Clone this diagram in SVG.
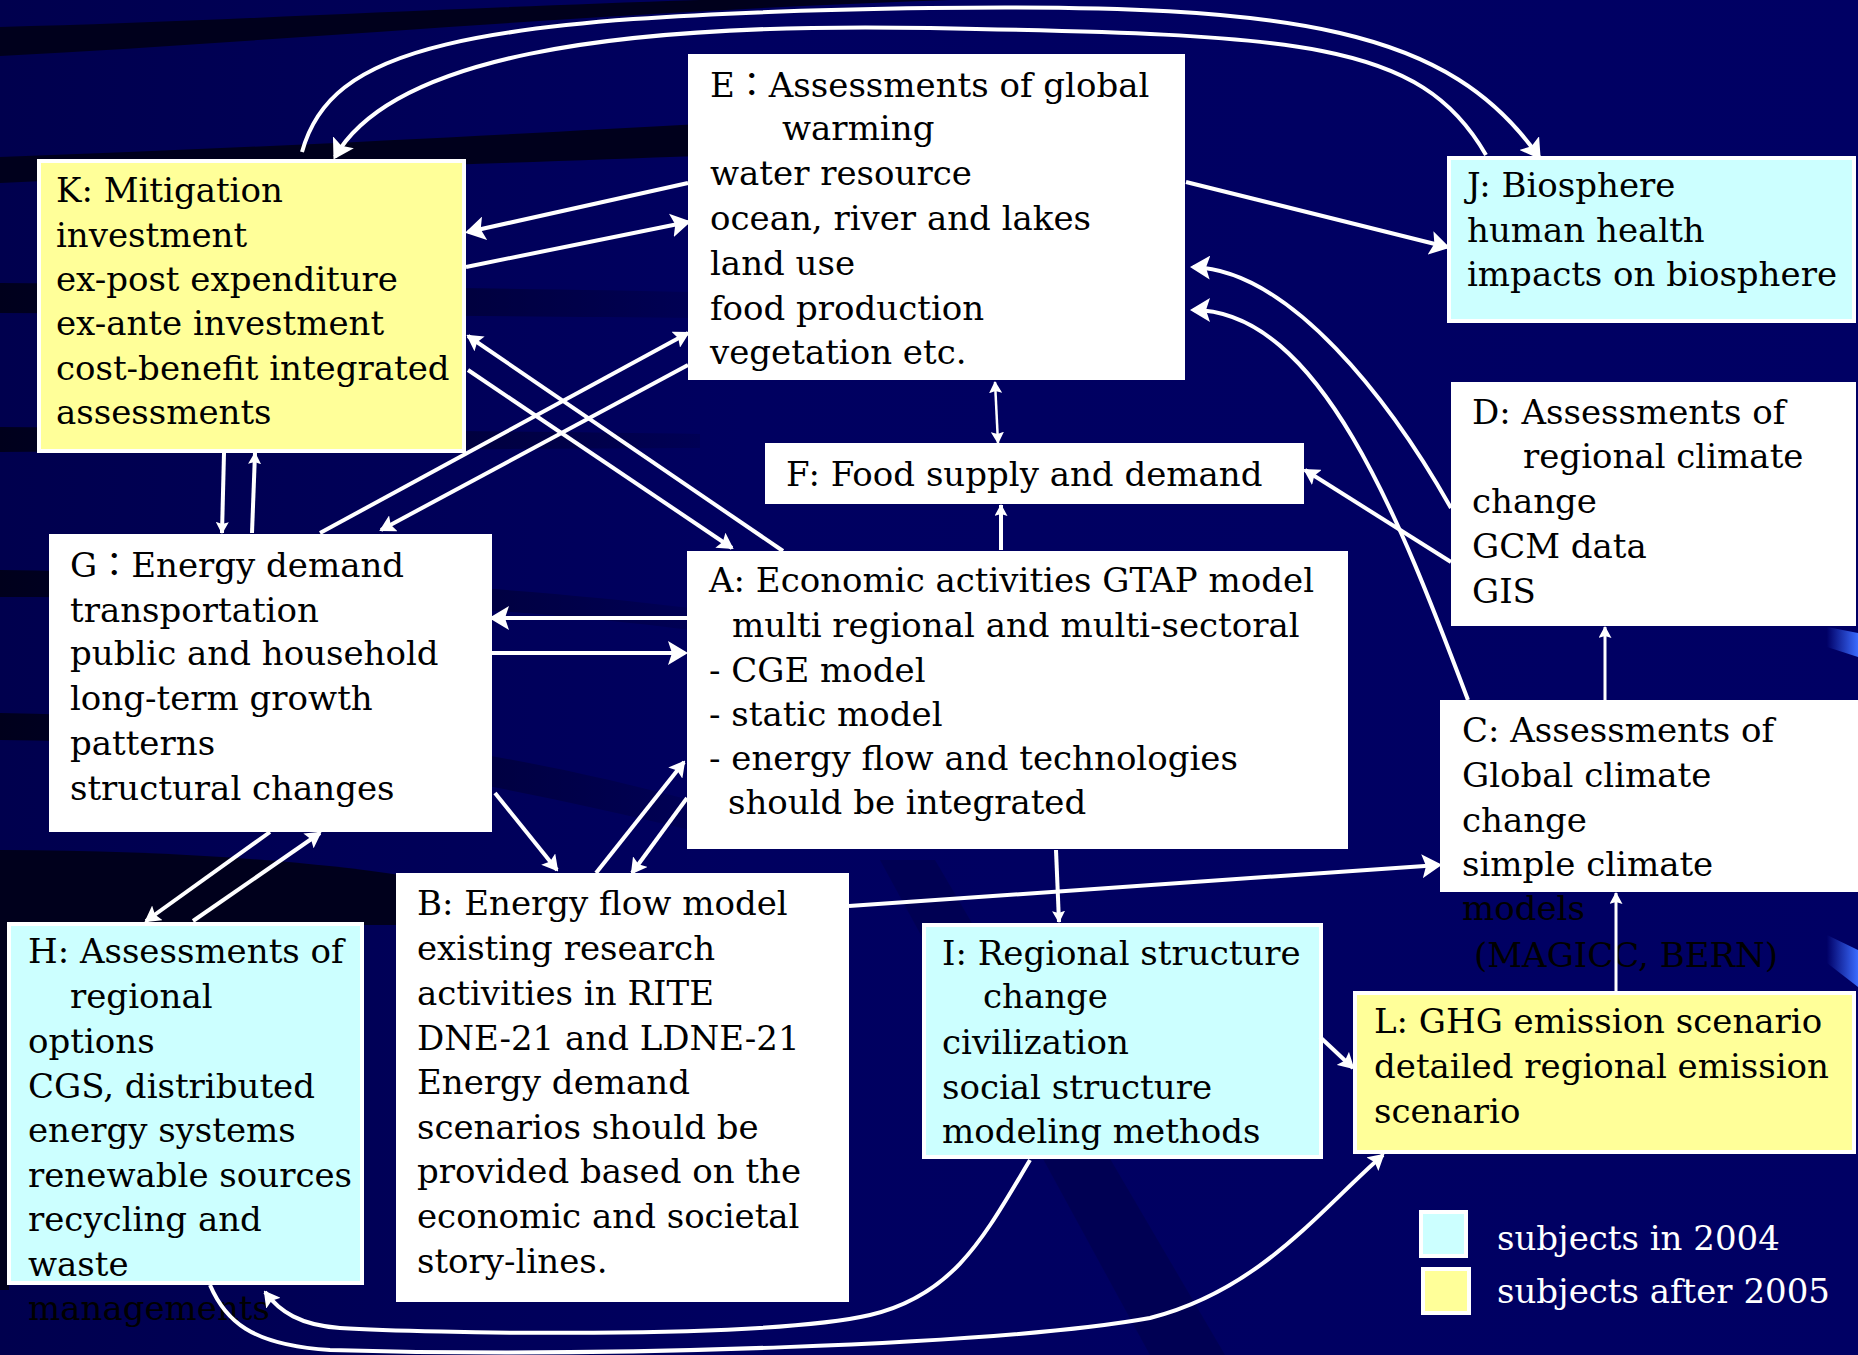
<svg xmlns="http://www.w3.org/2000/svg" width="1858" height="1355" viewBox="0 0 1858 1355">
<defs>
<style>
.n text{font-family:'DejaVu Serif','Noto Sans CJK JP',serif;font-size:34px;fill:#000}
.box{stroke:#fff;stroke-width:4}
.w{fill:#fff}.y{fill:#FFFF99}.c{fill:#CCFFFF}
#connectors path,#connectors line{stroke:#fff;fill:none;stroke-width:4}
.band{fill:#00001C}
.leg{font-family:'DejaVu Serif',serif;font-size:34px;fill:#fff}
</style>
<marker id="ab" markerUnits="userSpaceOnUse" markerWidth="20" markerHeight="24" viewBox="0 0 20 24" refX="17" refY="12" orient="auto-start-reverse"><path d="M0,0 L20,12 L0,24 L4,12 Z" fill="#fff"/></marker>
<marker id="am" markerUnits="userSpaceOnUse" markerWidth="16" markerHeight="18" viewBox="0 0 16 18" refX="14" refY="9" orient="auto-start-reverse"><path d="M0,0 L16,9 L0,18 L3,9 Z" fill="#fff"/></marker>
<marker id="as" markerUnits="userSpaceOnUse" markerWidth="12" markerHeight="13" viewBox="0 0 12 13" refX="11" refY="6.5" orient="auto-start-reverse"><path d="M0,0 L12,6.5 L0,13 L2,6.5 Z" fill="#fff"/></marker>
<linearGradient id="streak" x1="0" y1="0" x2="1" y2="0"><stop offset="0" stop-color="#000066"/><stop offset="1" stop-color="#3A6BFF"/></linearGradient>
<linearGradient id="bg" x1="0" y1="0" x2="1" y2="0"><stop offset="0" stop-color="#00004E"/><stop offset="0.4" stop-color="#000060"/><stop offset="1" stop-color="#000064"/></linearGradient>
<linearGradient id="fade" x1="0" y1="0" x2="1" y2="0"><stop offset="0" stop-color="#00001C" stop-opacity="1"/><stop offset="0.1" stop-color="#00001C" stop-opacity="0.9"/><stop offset="1" stop-color="#00001C" stop-opacity="0.15"/></linearGradient>
</defs>
<g id="background">
<rect x="0" y="0" width="1858" height="1355" fill="url(#bg)"/>
<path class="band" d="M0,27 C200,22 400,10 700,0 L950,0 C600,12 300,40 0,56 Z"/>
<path class="band" d="M0,157 C250,148 500,135 700,124 L700,156 C500,163 250,172 0,183 Z"/>
<path fill="url(#fade)" d="M0,283 C250,285 500,288 700,292 L700,318 C500,316 250,314 0,313 Z"/>
<path fill="url(#fade)" d="M0,427 C250,429 500,431 700,434 L700,448 C500,449 250,450 0,452 Z"/>
<path fill="url(#fade)" d="M0,570 C300,575 500,585 690,608 L690,630 C500,606 300,597 0,597 Z"/>
<path fill="url(#fade)" d="M0,713 C300,718 500,750 690,800 L690,830 C500,785 300,742 0,740 Z"/>
<path class="band" d="M0,850 C150,850 300,860 400,875 L400,925 L0,925 Z"/>
<rect class="band" x="0" y="920" width="9" height="370"/>
<path d="M880,860 L935,860 L1225,1355 L1150,1355 Z" fill="#000050" opacity="0.8"/>
<path d="M1827,627 L1858,633 L1858,657 L1827,647 Z" fill="url(#streak)"/>
<path d="M1827,935 L1858,950 L1858,987 L1827,963 Z" fill="url(#streak)"/>
</g>
<g id="node-E" class="n">
<rect class="box w" x="690" y="56" width="493" height="322"/>
<text x="710" y="97">E：Assessments of global</text>
<text x="782" y="140">warming</text>
<text x="710" y="185">water resource</text>
<text x="710" y="230">ocean, river and lakes</text>
<text x="710" y="275">land use</text>
<text x="710" y="320">food production</text>
<text x="710" y="364">vegetation etc.</text>
</g>
<g id="node-K" class="n">
<rect class="box y" x="39" y="161" width="425" height="290"/>
<text x="56" y="202">K: Mitigation</text>
<text x="56" y="247">investment</text>
<text x="56" y="291">ex-post expenditure</text>
<text x="56" y="335">ex-ante investment</text>
<text x="56" y="380">cost-benefit integrated</text>
<text x="56" y="424">assessments</text>
</g>
<g id="node-J" class="n">
<rect class="box c" x="1449" y="158" width="405" height="163"/>
<text x="1467" y="197">J: Biosphere</text>
<text x="1467" y="242">human health</text>
<text x="1467" y="286">impacts on biosphere</text>
</g>
<g id="node-D" class="n">
<rect class="box w" x="1453" y="384" width="401" height="240"/>
<text x="1472" y="424">D: Assessments of</text>
<text x="1523" y="468">regional climate</text>
<text x="1472" y="513">change</text>
<text x="1472" y="558">GCM data</text>
<text x="1472" y="603">GIS</text>
</g>
<g id="node-F" class="n">
<rect class="box w" x="767" y="445" width="535" height="57"/>
<text x="786" y="486">F: Food supply and demand</text>
</g>
<g id="node-A" class="n">
<rect class="box w" x="689" y="553" width="657" height="294"/>
<text x="709" y="592">A: Economic activities GTAP model</text>
<text x="732" y="637">multi regional and multi-sectoral</text>
<text x="709" y="682">- CGE model</text>
<text x="709" y="726">- static model</text>
<text x="709" y="770">- energy flow and technologies</text>
<text x="728" y="814">should be integrated</text>
</g>
<g id="node-G" class="n">
<rect class="box w" x="51" y="536" width="439" height="294"/>
<text x="70" y="577">G：Energy demand</text>
<text x="70" y="622">transportation</text>
<text x="70" y="665">public and household</text>
<text x="70" y="710">long-term growth</text>
<text x="70" y="755">patterns</text>
<text x="70" y="800">structural changes</text>
</g>
<g id="node-C" class="n">
<rect class="box w" x="1442" y="702" width="420" height="188"/>
<text x="1462" y="742">C: Assessments of</text>
<text x="1462" y="787">Global climate</text>
<text x="1462" y="832">change</text>
<text x="1462" y="876">simple climate</text>
<text x="1462" y="920">models</text>
<text x="1474" y="967">(MAGICC, BERN)</text>
</g>
<g id="node-B" class="n">
<rect class="box w" x="398" y="875" width="449" height="425"/>
<text x="417" y="915">B: Energy flow model</text>
<text x="417" y="960">existing research</text>
<text x="417" y="1005">activities in RITE</text>
<text x="417" y="1050">DNE-21 and LDNE-21</text>
<text x="417" y="1094">Energy demand</text>
<text x="417" y="1139">scenarios should be</text>
<text x="417" y="1183">provided based on the</text>
<text x="417" y="1228">economic and societal</text>
<text x="417" y="1273">story-lines.</text>
</g>
<g id="node-H" class="n">
<rect class="box c" x="9" y="924" width="353" height="359"/>
<text x="28" y="963">H: Assessments of</text>
<text x="70" y="1008">regional</text>
<text x="28" y="1053">options</text>
<text x="28" y="1098">CGS, distributed</text>
<text x="28" y="1142">energy systems</text>
<text x="28" y="1187">renewable sources</text>
<text x="28" y="1231">recycling and</text>
<text x="28" y="1276">waste</text>
<text x="28" y="1320">managements</text>
</g>
<g id="node-I" class="n">
<rect class="box c" x="924" y="925" width="397" height="232"/>
<text x="942" y="965">I: Regional structure</text>
<text x="983" y="1008">change</text>
<text x="942" y="1054">civilization</text>
<text x="942" y="1099">social structure</text>
<text x="942" y="1143">modeling methods</text>
</g>
<g id="node-L" class="n">
<rect class="box y" x="1355" y="993" width="499" height="159"/>
<text x="1374" y="1033">L: GHG emission scenario</text>
<text x="1374" y="1078">detailed regional emission</text>
<text x="1374" y="1123">scenario</text>
</g>
<g id="legend">
<rect class="box c" x="1421" y="1212" width="45" height="44"/>
<rect class="box y" x="1423" y="1269" width="46" height="44"/>
<text class="leg" x="1497" y="1250">subjects in 2004</text>
<text class="leg" x="1497" y="1303">subjects after 2005</text>
</g>
<g id="connectors">
<path d="M302,152 C330,50 450,15 930,8 C1300,3 1450,30 1539,157" marker-end="url(#ab)"/>
<path d="M1486,155 C1420,40 1300,35 930,28 C600,22 390,60 335,157" marker-end="url(#ab)"/>
<line x1="688" y1="183" x2="468" y2="232" marker-end="url(#ab)"/>
<line x1="466" y1="267" x2="688" y2="222" marker-end="url(#ab)"/>
<line x1="783" y1="551" x2="468" y2="336" marker-end="url(#am)"/>
<line x1="468" y1="370" x2="732" y2="548" marker-end="url(#am)"/>
<line x1="320" y1="533" x2="688" y2="333" marker-end="url(#am)"/>
<line x1="688" y1="365" x2="381" y2="530" marker-end="url(#am)"/>
<line x1="224" y1="453" x2="222" y2="533" marker-end="url(#as)"/>
<line x1="252" y1="533" x2="255" y2="453" marker-end="url(#as)"/>
<line x1="687" y1="618" x2="492" y2="618" marker-end="url(#ab)"/>
<line x1="492" y1="653" x2="685" y2="653" marker-end="url(#ab)"/>
<line x1="495" y1="793" x2="557" y2="870" marker-end="url(#am)"/>
<line x1="596" y1="873" x2="684" y2="762" marker-end="url(#am)"/>
<line x1="687" y1="798" x2="632" y2="873" marker-end="url(#am)"/>
<line x1="270" y1="832" x2="146" y2="921" marker-end="url(#am)"/>
<line x1="193" y1="921" x2="320" y2="833" marker-end="url(#am)"/>
<line x1="995" y1="382" x2="998" y2="443" style="stroke-width:2.5" marker-start="url(#as)" marker-end="url(#as)"/>
<line x1="1001" y1="550" x2="1001" y2="505" marker-end="url(#as)"/>
<line x1="1451" y1="562" x2="1305" y2="470" marker-end="url(#am)"/>
<path d="M1451,508 C1390,400 1290,270 1193,267" marker-end="url(#ab)"/>
<path d="M1468,700 C1400,520 1320,310 1193,310" marker-end="url(#ab)"/>
<line x1="1186" y1="182" x2="1447" y2="247" marker-end="url(#ab)"/>
<line x1="1605" y1="700" x2="1605" y2="627" style="stroke-width:3" marker-end="url(#as)"/>
<line x1="849" y1="906" x2="1439" y2="865" marker-end="url(#ab)"/>
<line x1="1056" y1="850" x2="1059" y2="922" marker-end="url(#as)"/>
<line x1="1320" y1="1037" x2="1353" y2="1068" marker-end="url(#am)"/>
<line x1="1616" y1="991" x2="1616" y2="893" style="stroke-width:3" marker-end="url(#as)"/>
<path d="M1030,1160 C985,1235 955,1295 870,1315 C760,1340 420,1333 340,1328 C300,1325 280,1312 265,1292" marker-end="url(#am)"/>
<path d="M210,1285 C225,1320 250,1345 330,1350 C600,1358 1000,1345 1150,1318 C1260,1290 1320,1210 1383,1155" marker-end="url(#am)"/>
</g>
</svg>
